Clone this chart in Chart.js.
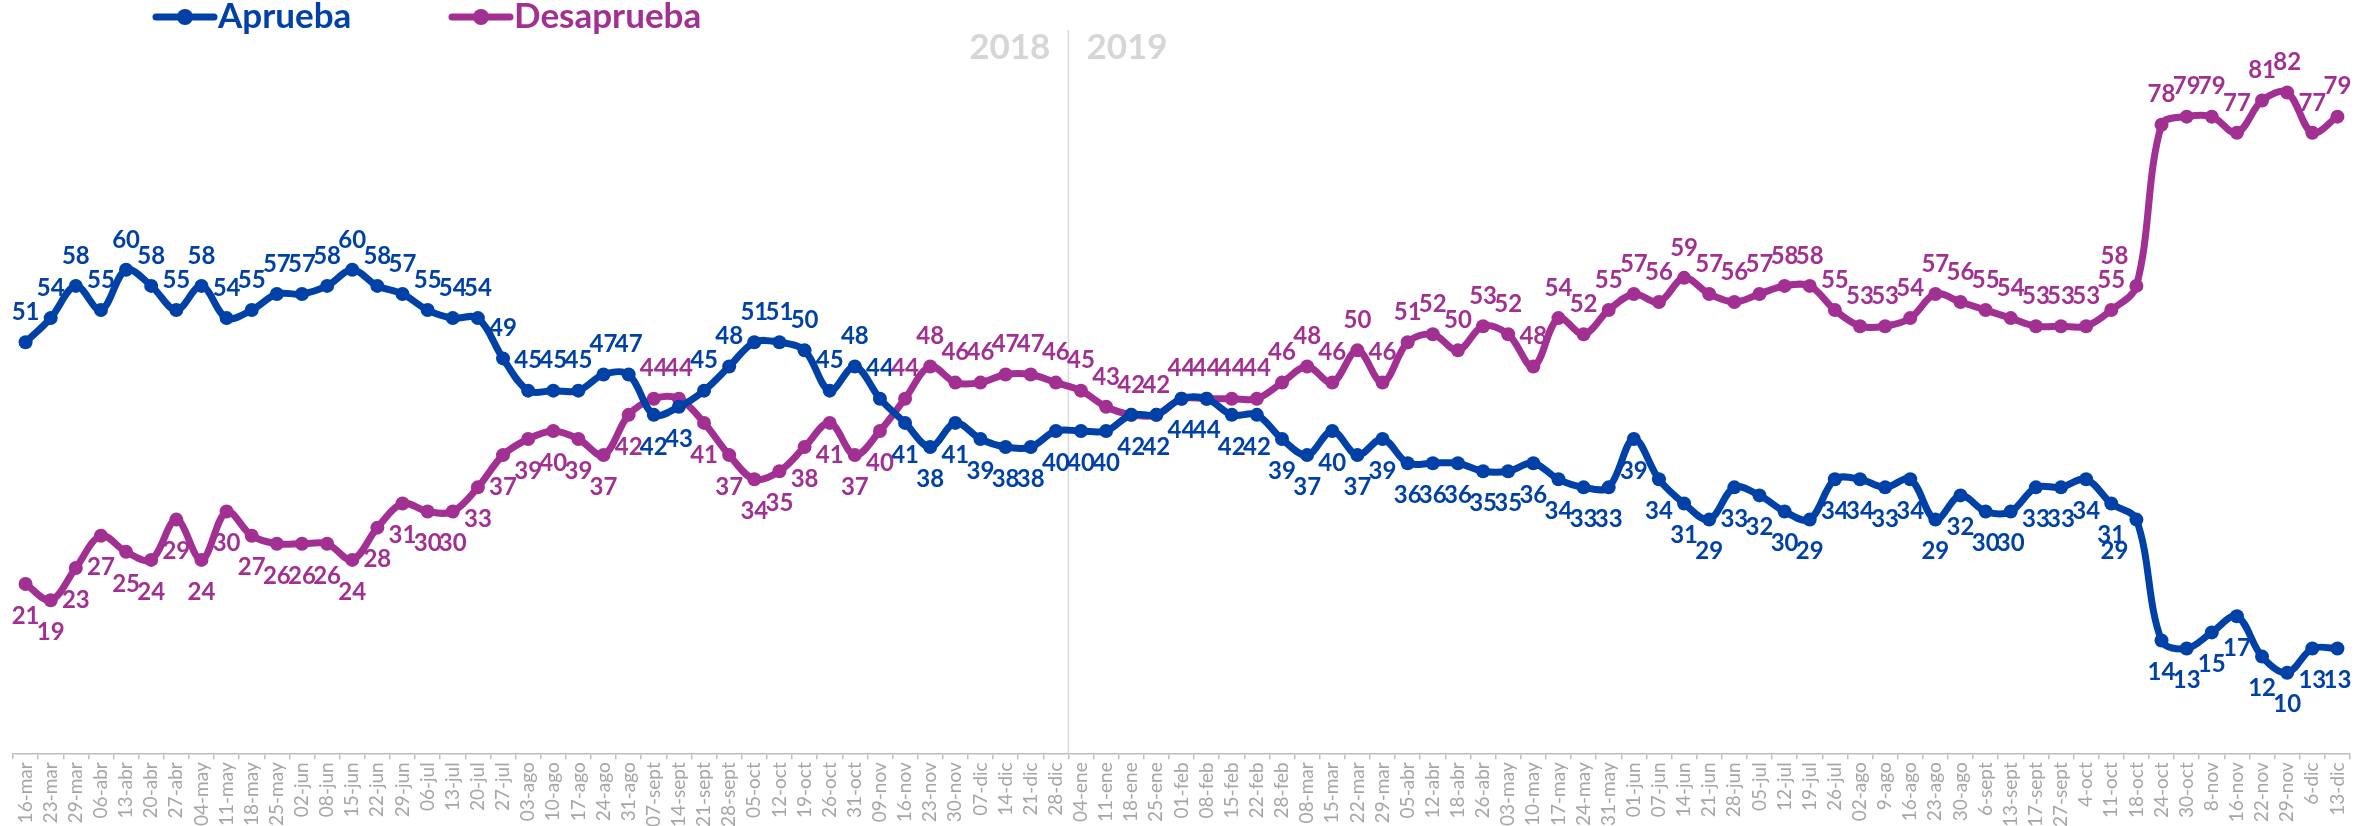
<!DOCTYPE html>
<html lang="es">
<head>
<meta charset="UTF-8">
<title>Aprueba / Desaprueba</title>
<script src="https://cdn.jsdelivr.net/npm/chart.js@4.4.1/dist/chart.umd.min.js"></script>
<style>
  html, body { margin: 0; padding: 0; background: #fff; }
</style>
</head>
<body>
<canvas id="myChart" width="2376" height="826"></canvas>
<script>
// semanas (eje x)
const semanas2018 = ['16-mar', '23-mar', '29-mar', '06-abr', '13-abr', '20-abr', '27-abr', '04-may', '11-may', '18-may',
  '25-may', '02-jun', '08-jun', '15-jun', '22-jun', '29-jun', '06-jul', '13-jul', '20-jul', '27-jul',
  '03-ago', '10-ago', '17-ago', '24-ago', '31-ago', '07-sept', '14-sept', '21-sept', '28-sept', '05-oct',
  '12-oct', '19-oct', '26-oct', '31-oct', '09-nov', '16-nov', '23-nov', '30-nov', '07-dic', '14-dic',
  '21-dic', '28-dic'];
const semanas2019 = ['04-ene', '11-ene', '18-ene', '25-ene', '01-feb', '08-feb', '15-feb', '22-feb', '28-feb', '08-mar',
  '15-mar', '22-mar', '29-mar', '05-abr', '12-abr', '18-abr', '26-abr', '03-may', '10-may', '17-may',
  '24-may', '31-may', '01-jun', '07-jun', '14-jun', '21-jun', '28-jun', '05-jul', '12-jul', '19-jul',
  '26-jul', '02-ago', '9-ago', '16-ago', '23-ago', '30-ago', '6-sept', '13-sept', '17-sept', '27-sept',
  '4-oct', '11-oct', '18-oct', '24-oct', '30-oct', '8-nov', '16-nov', '22-nov', '29-nov', '6-dic',
  '13-dic'];

const aprueba = [51, 54, 58, 55, 60, 58, 55, 58, 54, 55,
  57, 57, 58, 60, 58, 57, 55, 54, 54, 49,
  45, 45, 45, 47, 47, 42, 43, 45, 48, 51,
  51, 50, 45, 48, 44, 41, 38, 41, 39, 38,
  38, 40,
  40, 40, 42, 42, 44, 44, 42, 42, 39, 37,
  40, 37, 39, 36, 36, 36, 35, 35, 36, 34,
  33, 33, 39, 34, 31, 29, 33, 32, 30, 29,
  34, 34, 33, 34, 29, 32, 30, 30, 33, 33,
  34, 31, 29, 14, 13, 15, 17, 12, 10, 13,
  13];

const desaprueba = [21, 19, 23, 27, 25, 24, 29, 24, 30, 27,
  26, 26, 26, 24, 28, 31, 30, 30, 33, 37,
  39, 40, 39, 37, 42, 44, 44, 41, 37, 34,
  35, 38, 41, 37, 40, 44, 48, 46, 46, 47,
  47, 46,
  45, 43, 42, 42, 44, 44, 44, 44, 46, 48,
  46, 50, 46, 51, 52, 50, 53, 52, 48, 54,
  52, 55, 57, 56, 59, 57, 56, 57, 58, 58,
  55, 53, 53, 54, 57, 56, 55, 54, 53, 53,
  53, 55, 58, 78, 79, 79, 77, 81, 82, 77,
  79];

const anios = ['2018', '2019'];

const azul = '#0041a8';
const morado = '#a23092';

// etiquetas de valor: la serie de arriba lleva el número encima, la de abajo debajo
const etiquetas = {
  id: 'etiquetas',
  afterDatasetsDraw(chart) {
    const ctx = chart.ctx;
    const sets = chart.data.datasets;
    const n = chart.data.labels.length;
    ctx.save();
    ctx.font = 'bold 24px Lato';
    ctx.textAlign = 'center';
    ctx.textBaseline = 'middle';
    sets.forEach((ds, i) => {
      const otra = sets[1 - i].data;
      chart.getDatasetMeta(i).data.forEach((pt, j) => {
        const v = ds.data[j];
        const arriba = i === 0 ? v > otra[j] : v >= otra[j];
        // antes de un salto grande la etiqueta se corre a la izquierda
        const salto = j < n - 1 && Math.abs(ds.data[j + 1] - v) > 10 ? -22 : 0;
        ctx.fillStyle = ds.borderColor;
        ctx.fillText(String(v), pt.x + salto, pt.y + (arriba ? -30 : 32));
      });
    });
    ctx.restore();
  }
};

// separador 2018 | 2019
const separador = {
  id: 'separador',
  beforeDatasetsDraw(chart) {
    const ctx = chart.ctx;
    const xs = chart.scales.x;
    const corte = semanas2018.length;
    const x = (xs.getPixelForValue(corte - 1) + xs.getPixelForValue(corte)) / 2;
    ctx.save();
    ctx.strokeStyle = '#d9d9d9';
    ctx.lineWidth = 1.5;
    ctx.beginPath();
    ctx.moveTo(x, 30);
    ctx.lineTo(x, chart.chartArea.bottom);
    ctx.stroke();
    ctx.font = 'bold 35px Lato';
    ctx.fillStyle = '#d6d6d6';
    ctx.textBaseline = 'middle';
    ctx.textAlign = 'right';
    ctx.fillText(anios[0], x - 18, 48);
    ctx.textAlign = 'left';
    ctx.fillText(anios[1], x + 18, 48);
    ctx.restore();
  }
};

// leyenda con línea y punto
const leyenda = {
  id: 'leyenda',
  afterDraw(chart) {
    const ctx = chart.ctx;
    const pos = [156, 452];
    ctx.save();
    ctx.font = 'bold 35px Lato';
    ctx.textBaseline = 'middle';
    chart.data.datasets.forEach((ds, i) => {
      const x = pos[i], y = 17;
      ctx.strokeStyle = ds.borderColor;
      ctx.fillStyle = ds.borderColor;
      ctx.lineWidth = 7;
      ctx.lineCap = 'round';
      ctx.beginPath();
      ctx.moveTo(x, y);
      ctx.lineTo(x + 58, y);
      ctx.stroke();
      ctx.beginPath();
      ctx.arc(x + 29, y, 8, 0, Math.PI * 2);
      ctx.fill();
      ctx.fillText(ds.label, x + 62, y);
    });
    ctx.restore();
  }
};

new Chart(document.getElementById('myChart'), {
  type: 'line',
  data: {
    labels: semanas2018.concat(semanas2019),
    datasets: [{
      label: 'Aprueba',
      data: aprueba,
      borderColor: azul,
      backgroundColor: azul,
      pointBackgroundColor: azul,
      borderWidth: 7,
      pointRadius: 7,
      pointBorderWidth: 0,
      tension: 0.35
    }, {
      label: 'Desaprueba',
      data: desaprueba,
      borderColor: morado,
      backgroundColor: morado,
      pointBackgroundColor: morado,
      borderWidth: 7,
      pointRadius: 7,
      pointBorderWidth: 0,
      tension: 0.35
    }]
  },
  options: {
    responsive: false,
    animation: false,
    layout: { padding: { top: 28, left: 13, right: 26, bottom: -4 } },
    plugins: {
      legend: { display: false },
      tooltip: { enabled: false }
    },
    scales: {
      x: {
        offset: true,
        grid: { offset: true, drawOnChartArea: false, tickLength: 6, color: '#bfbfbf', lineWidth: 1.5 },
        border: { color: '#bfbfbf', width: 1.5 },
        ticks: {
          autoSkip: false, minRotation: 90, maxRotation: 90, padding: 3,
          color: '#a6a6a6', font: { family: 'Lato', size: 19 }
        }
      },
      y: { display: false, min: 0, max: 90 }
    }
  },
  plugins: [separador, etiquetas, leyenda]
});
</script>
</body>
</html>
